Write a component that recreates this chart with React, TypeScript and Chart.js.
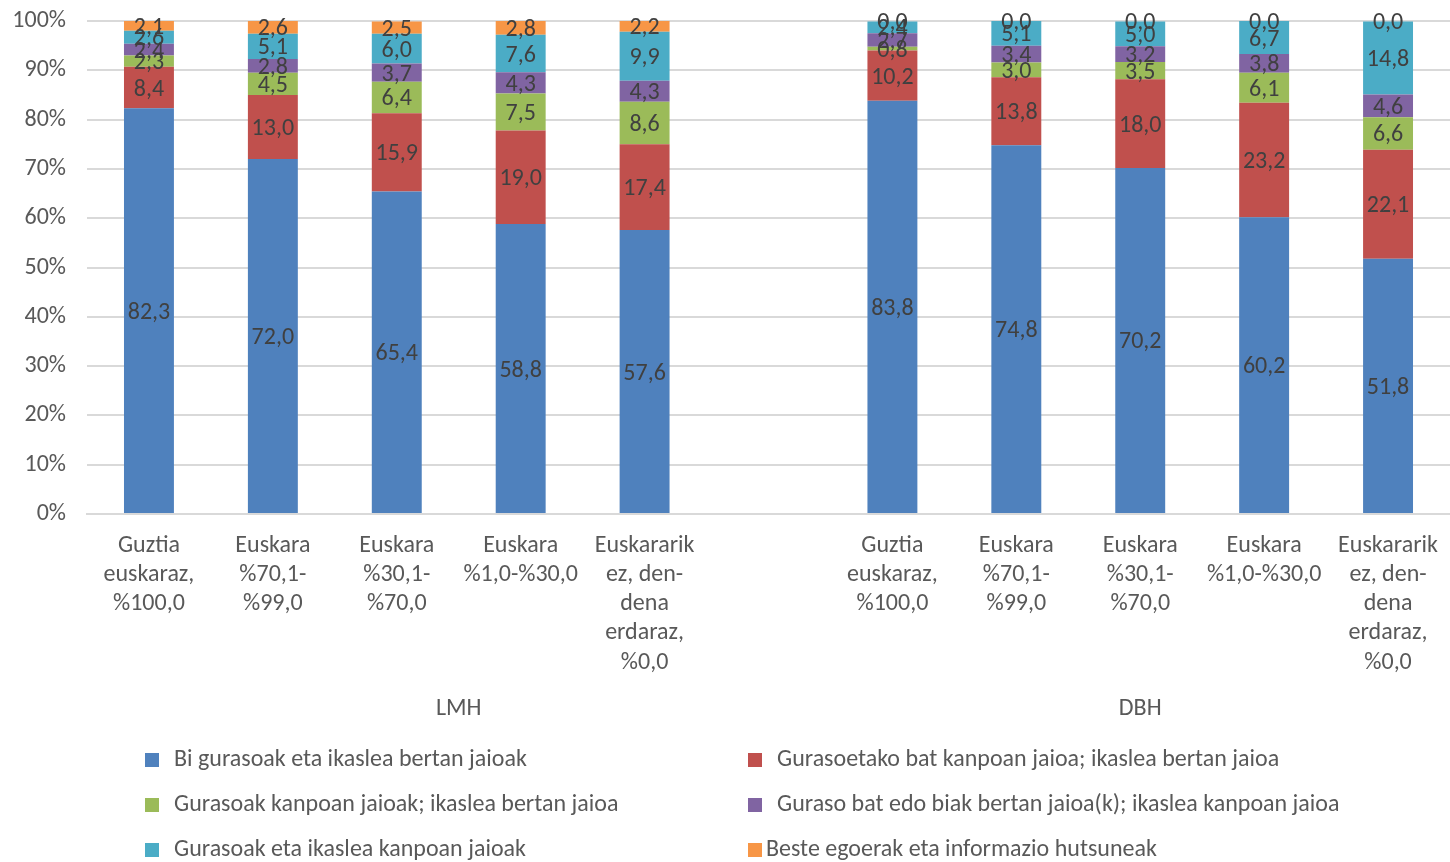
import React, { useEffect, useRef } from "react";
import { Chart, registerables } from "chart.js";

Chart.register(...registerables);

const categories: string[][] = [
  ["Guztia", "euskaraz,", "%100,0"],
  ["Euskara", "%70,1-", "%99,0"],
  ["Euskara", "%30,1-", "%70,0"],
  ["Euskara", "%1,0-%30,0"],
  ["Euskararik", "ez, den-", "dena", "erdaraz,", "%0,0"],
  [""],
  ["Guztia", "euskaraz,", "%100,0"],
  ["Euskara", "%70,1-", "%99,0"],
  ["Euskara", "%30,1-", "%70,0"],
  ["Euskara", "%1,0-%30,0"],
  ["Euskararik", "ez, den-", "dena", "erdaraz,", "%0,0"],
];

const groups = [
  { label: "LMH", from: 0, to: 5 },
  { label: "DBH", from: 6, to: 10 },
];

const seriesNames = [
  "Bi gurasoak eta ikaslea bertan jaioak",
  "Gurasoetako bat kanpoan jaioa; ikaslea bertan jaioa",
  "Gurasoak kanpoan jaioak; ikaslea bertan jaioa",
  "Guraso bat edo biak bertan jaioa(k); ikaslea kanpoan jaioa",
  "Gurasoak eta ikaslea kanpoan jaioak",
  "Beste egoerak eta informazio hutsuneak",
];

const bothBorn = [82.3, 72.0, 65.4, 58.8, 57.6, null, 83.8, 74.8, 70.2, 60.2, 51.8];
const oneParentAbroad = [8.4, 13.0, 15.9, 19.0, 17.4, null, 10.2, 13.8, 18.0, 23.2, 22.1];
const parentsAbroad = [2.3, 4.5, 6.4, 7.5, 8.6, null, 0.8, 3.0, 3.5, 6.1, 6.6];
const studentAbroad = [2.4, 2.8, 3.7, 4.3, 4.3, null, 2.7, 3.4, 3.2, 3.8, 4.6];
const allAbroad = [2.6, 5.1, 6.0, 7.6, 9.9, null, 2.4, 5.1, 5.0, 6.7, 14.8];
const other = [2.1, 2.6, 2.5, 2.8, 2.2, null, 0.0, 0.0, 0.0, 0.0, 0.0];

const seriesValues = [bothBorn, oneParentAbroad, parentsAbroad, studentAbroad, allAbroad, other];
const colors = ["#4F81BD", "#C0504D", "#9BBB59", "#8064A2", "#4BACC6", "#F79646"];

const FONT = "Carlito, Calibri, Lato, sans-serif";
const FS = 24;
const TEXT = "#595959";

const fmt = (v: number) => v.toFixed(1).replace(".", ",");

const labelsPlugin = {
  id: "segLabels",
  afterDatasetsDraw(chart: any) {
    const ctx = chart.ctx;
    ctx.save();
    ctx.font = `${FS}px ${FONT}`;
    ctx.fillStyle = "#404040";
    ctx.textAlign = "center";
    ctx.textBaseline = "middle";
    chart.data.datasets.forEach((ds: any, di: number) => {
      const meta = chart.getDatasetMeta(di);
      meta.data.forEach((el: any, i: number) => {
        const v = ds.data[i];
        if (v === null || v === undefined) return;
        const y = (el.y + el.base) / 2 + 2;
        ctx.fillText(fmt(v), el.x, y);
      });
    });
    ctx.restore();
  },
};

const groupPlugin = {
  id: "groupsAndLegend",
  afterDraw(chart: any) {
    const ctx = chart.ctx;
    const xs = chart.scales.x;
    const area = chart.chartArea;
    ctx.save();
    ctx.font = `${FS}px ${FONT}`;
    ctx.fillStyle = TEXT;
    ctx.textAlign = "center";
    ctx.textBaseline = "middle";
    const half = (xs.getPixelForValue(1) - xs.getPixelForValue(0)) / 2;
    groups.forEach((g) => {
      const x0 = xs.getPixelForValue(g.from) - half;
      const x1 = xs.getPixelForValue(g.to) + half;
      ctx.fillText(g.label, (x0 + x1) / 2, area.bottom + 195);
    });
    // legend: 3 rows x 2 columns
    ctx.textAlign = "left";
    const colX = [145, 748];
    const rowY = [760, 805, 850];
    chart.data.datasets.forEach((ds: any, i: number) => {
      const col = i % 2;
      const row = Math.floor(i / 2);
      const bx = colX[col];
      const cy = rowY[row];
      ctx.fillStyle = ds.backgroundColor;
      ctx.fillRect(bx, cy - 7, 14, 14);
      ctx.fillStyle = TEXT;
      const tx = i === 5 ? bx + 18 : bx + 29;
      ctx.fillText(ds.label, tx, cy);
    });
    ctx.restore();
  },
};

export default function App() {
  const ref = useRef<HTMLCanvasElement>(null);
  useEffect(() => {
    if (!ref.current) return;
    const chart = new Chart(ref.current, {
      type: "bar",
      data: {
        labels: categories as any,
        datasets: seriesNames.map((name, i) => ({
          label: name,
          data: seriesValues[i] as any,
          backgroundColor: colors[i],
          borderWidth: 0,
          barPercentage: 1,
          categoryPercentage: 0.403,
        })),
      },
      options: {
        animation: false,
        responsive: false,
        maintainAspectRatio: false,
        layout: { padding: { top: 21, left: 0, right: 0, bottom: 0 } },
        plugins: {
          legend: { display: false },
          tooltip: { enabled: false },
        },
        scales: {
          x: {
            stacked: true,
            grid: { display: false, drawTicks: true, tickLength: 17, tickColor: "rgba(0,0,0,0)" },
            border: { display: true, color: "#D9D9D9", width: 2 },
            ticks: {
              color: TEXT,
              font: { family: FONT, size: FS, lineHeight: 1.22 },
              padding: 0,
              maxRotation: 0,
              minRotation: 0,
              autoSkip: false,
            },
            afterFit: (s: any) => {
              s.height = 862 - 514;
            },
          },
          y: {
            stacked: true,
            min: 0,
            max: 100,
            grid: { color: "#D9D9D9", lineWidth: 2, drawTicks: true, tickLength: 21, tickColor: "rgba(0,0,0,0)" },
            border: { display: false },
            ticks: {
              stepSize: 10,
              color: TEXT,
              font: { family: FONT, size: FS },
              padding: 0,
              callback: (v: any) => `${v}%`,
            },
            afterFit: (s: any) => {
              s.width = 87;
            },
          },
        },
      },
      plugins: [labelsPlugin, groupPlugin],
    });
    return () => chart.destroy();
  }, []);
  return (
    <div style={{ position: "fixed", left: 0, top: 0, width: 1450, height: 862, background: "#fff" }}>
      <canvas ref={ref} width={1450} height={862} style={{ display: "block" }} />
    </div>
  );
}
